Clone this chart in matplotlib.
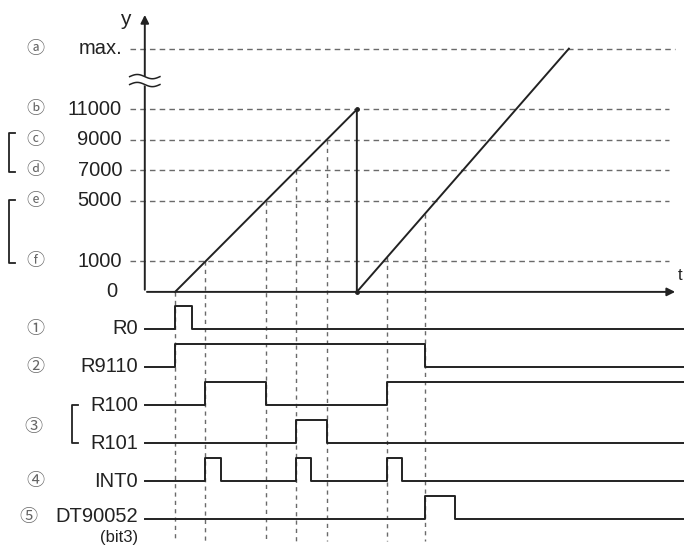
import numpy as np
import matplotlib.pyplot as plt

# upper part: counter value (y) levels, schematic (not to scale)
level_labels = ["max.", "11000", "9000", "7000", "5000", "1000"]
level_marks = ["ⓐ", "ⓑ", "ⓒ", "ⓓ", "ⓔ", "ⓕ"]
level_pos = [8, 6, 5, 4, 3, 1]

# counter ramp (time, level)
ramp_t = [0, 6, 6, 13]
ramp_y = [0, 6, 0, 8]

# times where the dotted guide lines drop down
event_t = [0, 1, 3, 4, 5, 7, 8.25]

# lower part: signals
signal_names = ["R0", "R9110", "R100", "R101", "INT0", "DT90052"]
signal_marks = ["①", "②", "", "", "④", "⑤"]
signal_high = [
    [(0, 0.55)],
    [(0, 8.25)],
    [(1, 3), (7, 99)],
    [(4, 5)],
    [(1, 1.5), (4, 4.5), (7, 7.5)],
    [(8.25, 9.25)],
]

t_left, t_right = -1.0, 16.8
row0, row_gap, amp = -1.22, 1.25, 0.75
ink = "#222222"
dash = "#6a6a6a"
mark_col = "#666666"
mark_font = ['Noto Sans CJK JP', 'DejaVu Sans']

plt.rcParams['font.family'] = ['Liberation Sans', 'DejaVu Sans']

fig = plt.figure(figsize=(6.84, 5.47), dpi=100)
ax = fig.add_axes([0, 0, 1, 1])
ax.set_xlim(-5.78, 16.8)
ax.set_ylim(-8.39, 9.6)
ax.axis('off')


def ramp_level(t):
    if t <= ramp_t[1]:
        return np.interp(t, ramp_t[:2], ramp_y[:2])
    return np.interp(t, ramp_t[2:], ramp_y[2:])


# horizontal dashed levels + labels
for lab, mk, lv in zip(level_labels, level_marks, level_pos):
    x_end = 16.5 if lv == 8 else 16.3
    ax.plot([-1.5, x_end], [lv, lv], color=dash, lw=1.0, dashes=(4, 3), zorder=1)
    ax.text(-1.75, lv, lab, ha='right', va='center', fontsize=14.5, color=ink)
    ax.text(-4.62, lv, mk, ha='center', va='center', fontsize=13, color=mark_col,
            family=mark_font)
ax.text(-1.9, 0, "0", ha='right', va='center', fontsize=14.5, color=ink)
ax.text(-1.65, 8.95, "y", ha='center', va='center', fontsize=15, color=ink)

# brackets (upper left)
for top, bot in [(5.23, 3.95), (3.03, 0.95)]:
    ax.plot([-5.3, -5.48, -5.48, -5.3], [top, top, bot, bot], color=ink, lw=1.3)

# axes with arrows
ax.annotate("", xy=(-1, 9.2), xytext=(-1, -0.02),
            arrowprops=dict(arrowstyle='-|>', color=ink, lw=1.4, mutation_scale=12))
ax.annotate("", xy=(16.6, 0), xytext=(-1.02, 0),
            arrowprops=dict(arrowstyle='-|>', color=ink, lw=1.4, mutation_scale=12))
ax.text(16.75, 0.55, "t", ha='right', va='center', fontsize=12, color=ink)

# axis break squiggle
sx = np.linspace(-1.5, -0.5, 60)
wave = 0.07 * np.sin((sx + 1.5) * 2 * np.pi)
ax.fill_between(sx, 6.82 + wave, 7.08 + wave, color='white', zorder=3)
for off in (7.08, 6.82):
    ax.plot(sx, off + wave, color=ink, lw=1.1, zorder=4)

# ramp
ax.plot(ramp_t, ramp_y, color=ink, lw=1.4, zorder=5)
ax.plot([ramp_t[1], ramp_t[2]], [ramp_y[1], ramp_y[2]], 'o', color=ink, ms=2.5, zorder=6)

# dotted guide lines
bottom = -8.2
for t in event_t:
    ax.plot([t, t], [ramp_level(t), bottom], color=dash, lw=1.0, dashes=(3, 3), zorder=1)

# signals
for i, (name, mk, highs) in enumerate(zip(signal_names, signal_marks, signal_high)):
    base = row0 - row_gap * i
    xs, ys = [t_left], [0]
    for a, b in highs:
        xs += [a, a]
        ys += [0, 1]
        if b < t_right:
            xs += [b, b]
            ys += [1, 0]
    xs.append(t_right)
    ys.append(ys[-1])
    ax.plot(xs, base + amp * np.array(ys), color=ink, lw=1.4, zorder=5)
    ty = base + 0.08 if name == "DT90052" else base
    ax.text(-1.22, ty, name, ha='right', va='center', fontsize=14.5, color=ink)
    if mk:
        mx = -4.85 if name == "DT90052" else -4.62
        ax.text(mx, ty, mk, ha='center', va='center', fontsize=13, color=mark_col,
                family=mark_font)
ax.text(-1.22, row0 - row_gap * 5 - 0.62, "(bit3)", ha='right', va='center',
        fontsize=12, color=ink)

# bracket for R100 / R101 + mark 3
b_top = row0 - row_gap * 2
b_bot = row0 - row_gap * 3
ax.plot([-3.2, -3.4, -3.4, -3.2], [b_top, b_top, b_bot, b_bot], color=ink, lw=1.3)
ax.text(-4.68, (b_top + b_bot) / 2 - 0.1, "③", ha='center', va='center', fontsize=13,
        color=mark_col, family=mark_font)

fig.savefig("out.png", dpi=100)
